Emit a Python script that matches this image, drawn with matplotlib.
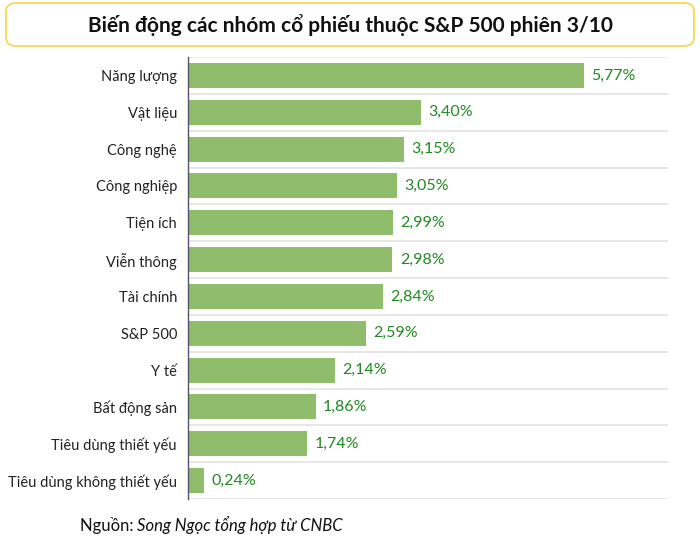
import matplotlib.pyplot as plt
from matplotlib.patches import FancyBboxPatch

plt.rcParams['font.family'] = ['Lato', 'DejaVu Sans']

# Data
categories = [
    "Năng lượng", "Vật liệu", "Công nghệ", "Công nghiệp", "Tiện ích",
    "Viễn thông", "Tài chính", "S&P 500", "Y tế", "Bất động sản",
    "Tiêu dùng thiết yếu", "Tiêu dùng không thiết yếu",
]
values = [5.77, 3.40, 3.15, 3.05, 2.99, 2.98, 2.84, 2.59, 2.14, 1.86, 1.74, 0.24]
value_labels = ["5,77%", "3,40%", "3,15%", "3,05%", "2,99%", "2,98%",
                "2,84%", "2,59%", "2,14%", "1,86%", "1,74%", "0,24%"]

bar_color = "#8fbd6c"
label_green = "#1f8a1f"

fig = plt.figure(figsize=(7, 5.45), dpi=100)

# Title box
box = FancyBboxPatch((6 / 700, 1 - 46 / 545), 688 / 700, 43 / 545,
                     boxstyle="round,pad=0,rounding_size=0.015",
                     transform=fig.transFigure, facecolor="white",
                     edgecolor="#fbd654", linewidth=1.3)
fig.patches.append(box)
fig.text(0.5, 1 - 25 / 545, "Biến động các nhóm cổ phiếu thuộc S&P 500 phiên 3/10",
         ha="center", va="center", fontsize=15, fontweight="bold", color="#111111")

ax = fig.add_axes([188 / 700, 1 - 499 / 545, 480 / 700, 442 / 545])
y = list(range(len(categories)))
ax.barh(y, values, height=0.68, color=bar_color)
ax.set_xlim(0, 7)
ax.set_ylim(len(categories) - 0.5, -0.5)

for yi, v, lab in zip(y, values, value_labels):
    ax.text(v + 0.11, yi, lab, va="center", ha="left", fontsize=11.5, color=label_green)

ax.set_yticks(y)
ax.set_yticklabels(categories, fontsize=10.5, color="#222222")
ax.tick_params(axis="y", length=0, pad=8)
ax.set_xticks([])

# gridlines between categories
for b in [i - 0.5 for i in range(len(categories) + 1)]:
    ax.axhline(b, color="#e3e3e3", linewidth=1.2, zorder=0)

for s in ["top", "right", "bottom"]:
    ax.spines[s].set_visible(False)
ax.spines["left"].set_color("#555566")
ax.spines["left"].set_linewidth(1)

# Source line
fig.text(80 / 700, 1 - 525 / 545, "Nguồn: ", fontsize=12, va="center", ha="left", color="#111111")
fig.text(137 / 700, 1 - 525 / 545, "Song Ngọc tổng hợp từ CNBC", fontsize=12,
         style="italic", va="center", ha="left", color="#111111")

plt.savefig("out.png", dpi=100)
